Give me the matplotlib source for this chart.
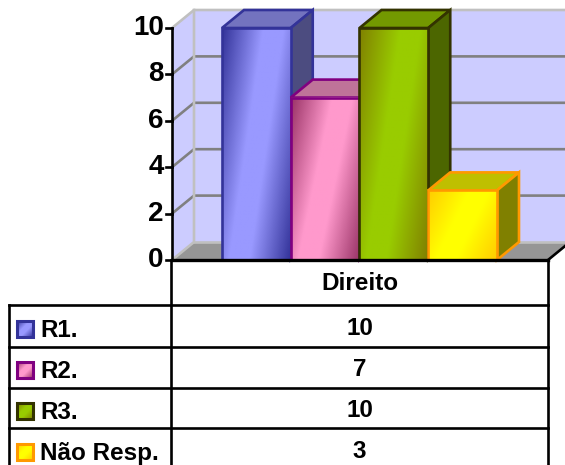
import numpy as np
from matplotlib import pyplot as plt
from matplotlib.colors import LinearSegmentedColormap
from matplotlib.patches import Polygon, Rectangle

plt.rcParams['font.family'] = ['Liberation Sans', 'DejaVu Sans']
plt.rcParams['font.weight'] = 'bold'

series = ["R1.", "R2.", "R3.", "Não Resp."]
values = [10, 7, 10, 3]
category = "Direito"
y_ticks = [0, 2, 4, 6, 8, 10]

light = ["#9999FF", "#FF99CC", "#99CC00", "#FFFF00"]
dark = ["#333399", "#993366", "#808000", "#FFCC00"]
edge = ["#333399", "#800080", "#333300", "#FF9900"]
top_col = ["#7373BF", "#BF7399", "#739900", "#BFBF00"]
side_col = ["#4C4C80", "#804C66", "#4C6600", "#808000"]

W, H = 565, 465
DX, DY = 0.32, 0.776  # depth of the 3d look, in data units
LW = 1.9
FS = 17.5

fig = plt.figure(figsize=(W / 100, H / 100), dpi=100)
ax = fig.add_axes([172 / W, 1 - 260 / H, (548 - 172) / W, (260 - 28) / H])
ax.set_xlim(-0.727, 4.742)
ax.set_ylim(0, 10)
ax.axis("off")
x0, x1 = ax.get_xlim()

# walls and floor
ax.add_patch(Polygon([(x0 + DX, DY), (x1 + 1, DY), (x1 + 1, 10 + DY), (x0 + DX, 10 + DY)],
                     fc="#CCCCFF", ec="none", clip_on=False, zorder=1))
ax.add_patch(Polygon([(x0, 0), (x0 + DX, DY), (x0 + DX, 10 + DY), (x0, 10)],
                     fc="#CCCCFF", ec="none", clip_on=False, zorder=1))
ax.add_patch(Polygon([(x0, 0), (x1, 0), (x1 + DX, DY), (x0 + DX, DY)],
                     fc="#969696", ec="none", clip_on=False, zorder=1))
for t in y_ticks[1:-1]:
    ax.plot([x0, x0 + DX, x1 + 1], [t, t + DY, t + DY], color="#808080", lw=LW,
            clip_on=False, zorder=2, solid_joinstyle="miter")
ax.plot([x0, x0 + DX, x0 + DX], [0, DY, 10 + DY], color="#C0C0C0", lw=LW, clip_on=False, zorder=2)
ax.plot([x0, x0 + DX, x1 + 1], [10, 10 + DY, 10 + DY], color="#C0C0C0", lw=LW, clip_on=False, zorder=2)
ax.plot([x0 + DX, x1 + 1], [DY, DY], color="#C0C0C0", lw=LW, clip_on=False, zorder=2)
ax.plot([x1, x1 + DX], [0, DY], color="black", lw=LW, clip_on=False, zorder=3)

# gradient for the bar fronts: dark corners, light middle
u, v = np.meshgrid(np.linspace(0, 1, 80), np.linspace(0, 1, 160))
grad = (u + 0.5 * v) / 1.5
grad = np.clip((0.5 - np.abs(grad - 0.5)) / 0.4, 0, 1)

z = 4
for i, val in enumerate(values):
    ax.add_patch(Polygon([(i, val), (i + 1, val), (i + 1 + DX, val + DY), (i + DX, val + DY)],
                         fc=top_col[i], ec=edge[i], lw=LW, clip_on=False, zorder=z, joinstyle="miter"))
    ax.add_patch(Polygon([(i + 1, 0), (i + 1 + DX, DY), (i + 1 + DX, val + DY), (i + 1, val)],
                         fc=side_col[i], ec=edge[i], lw=LW, clip_on=False, zorder=z, joinstyle="miter"))
    cmap = LinearSegmentedColormap.from_list("b", [dark[i], light[i]])
    ax.imshow(grad, cmap=cmap, extent=[i, i + 1, 0, val], origin="upper", aspect="auto",
              vmin=0, vmax=1, zorder=z + 0.1, interpolation="bilinear")
    ax.add_patch(Rectangle((i, 0), 1, val, fc="none", ec=edge[i], lw=LW, clip_on=False,
                           zorder=z + 0.2, joinstyle="miter"))
    z += 1
ax.set_xlim(x0, x1)
ax.set_ylim(0, 10)

# value axis
ax.plot([x0, x0], [0, 10], color="black", lw=LW, clip_on=False, zorder=20)
for t in y_ticks:
    ax.plot([x0 - 0.09, x0], [t, t], color="black", lw=LW, clip_on=False, zorder=20)
    ax.text(x0 - 0.12, t, str(t), ha="right", va="center", fontsize=20, clip_on=False)

# data table, in pixel coordinates
tb = fig.add_axes([0, 0, 1, 1], facecolor="none")
tb.set_xlim(0, W)
tb.set_ylim(H, 0)
tb.axis("off")
row_y = [305, 347, 388, 428]
label_base = [337, 378, 419, 460]
value_base = [335, 376, 417, 458]
tb.plot([172, 548], [260, 260], color="black", lw=2.4)
for y in row_y:
    tb.plot([9, 548], [y, y], color="black", lw=LW)
tb.plot([9, 9], [305, 465], color="black", lw=LW)
tb.plot([171, 171], [260, 465], color="black", lw=LW)
tb.plot([548, 548], [260, 465], color="black", lw=LW)
tb.text(359.5, 290, category, ha="center", va="baseline", fontsize=FS)

kg = np.clip((0.5 - np.abs((u + v) / 2 - 0.5)) / 0.4, 0, 1)
for i, name in enumerate(series):
    b = label_base[i]
    cmap = LinearSegmentedColormap.from_list("k", [dark[i], light[i]])
    tb.imshow(kg, cmap=cmap, extent=[17, 33, b, b - 16], aspect="auto",
              vmin=0, vmax=1, zorder=3)
    tb.add_patch(Rectangle((17, b - 16), 16, 16, fc="none", ec=edge[i], lw=LW + 0.3, zorder=4))
    tb.text(40, b, name, ha="left", va="baseline", fontsize=FS)
    tb.text(359.5, value_base[i], str(values[i]), ha="center", va="baseline", fontsize=FS)
tb.set_xlim(0, W)
tb.set_ylim(H, 0)

fig.savefig("out.png", dpi=100)
